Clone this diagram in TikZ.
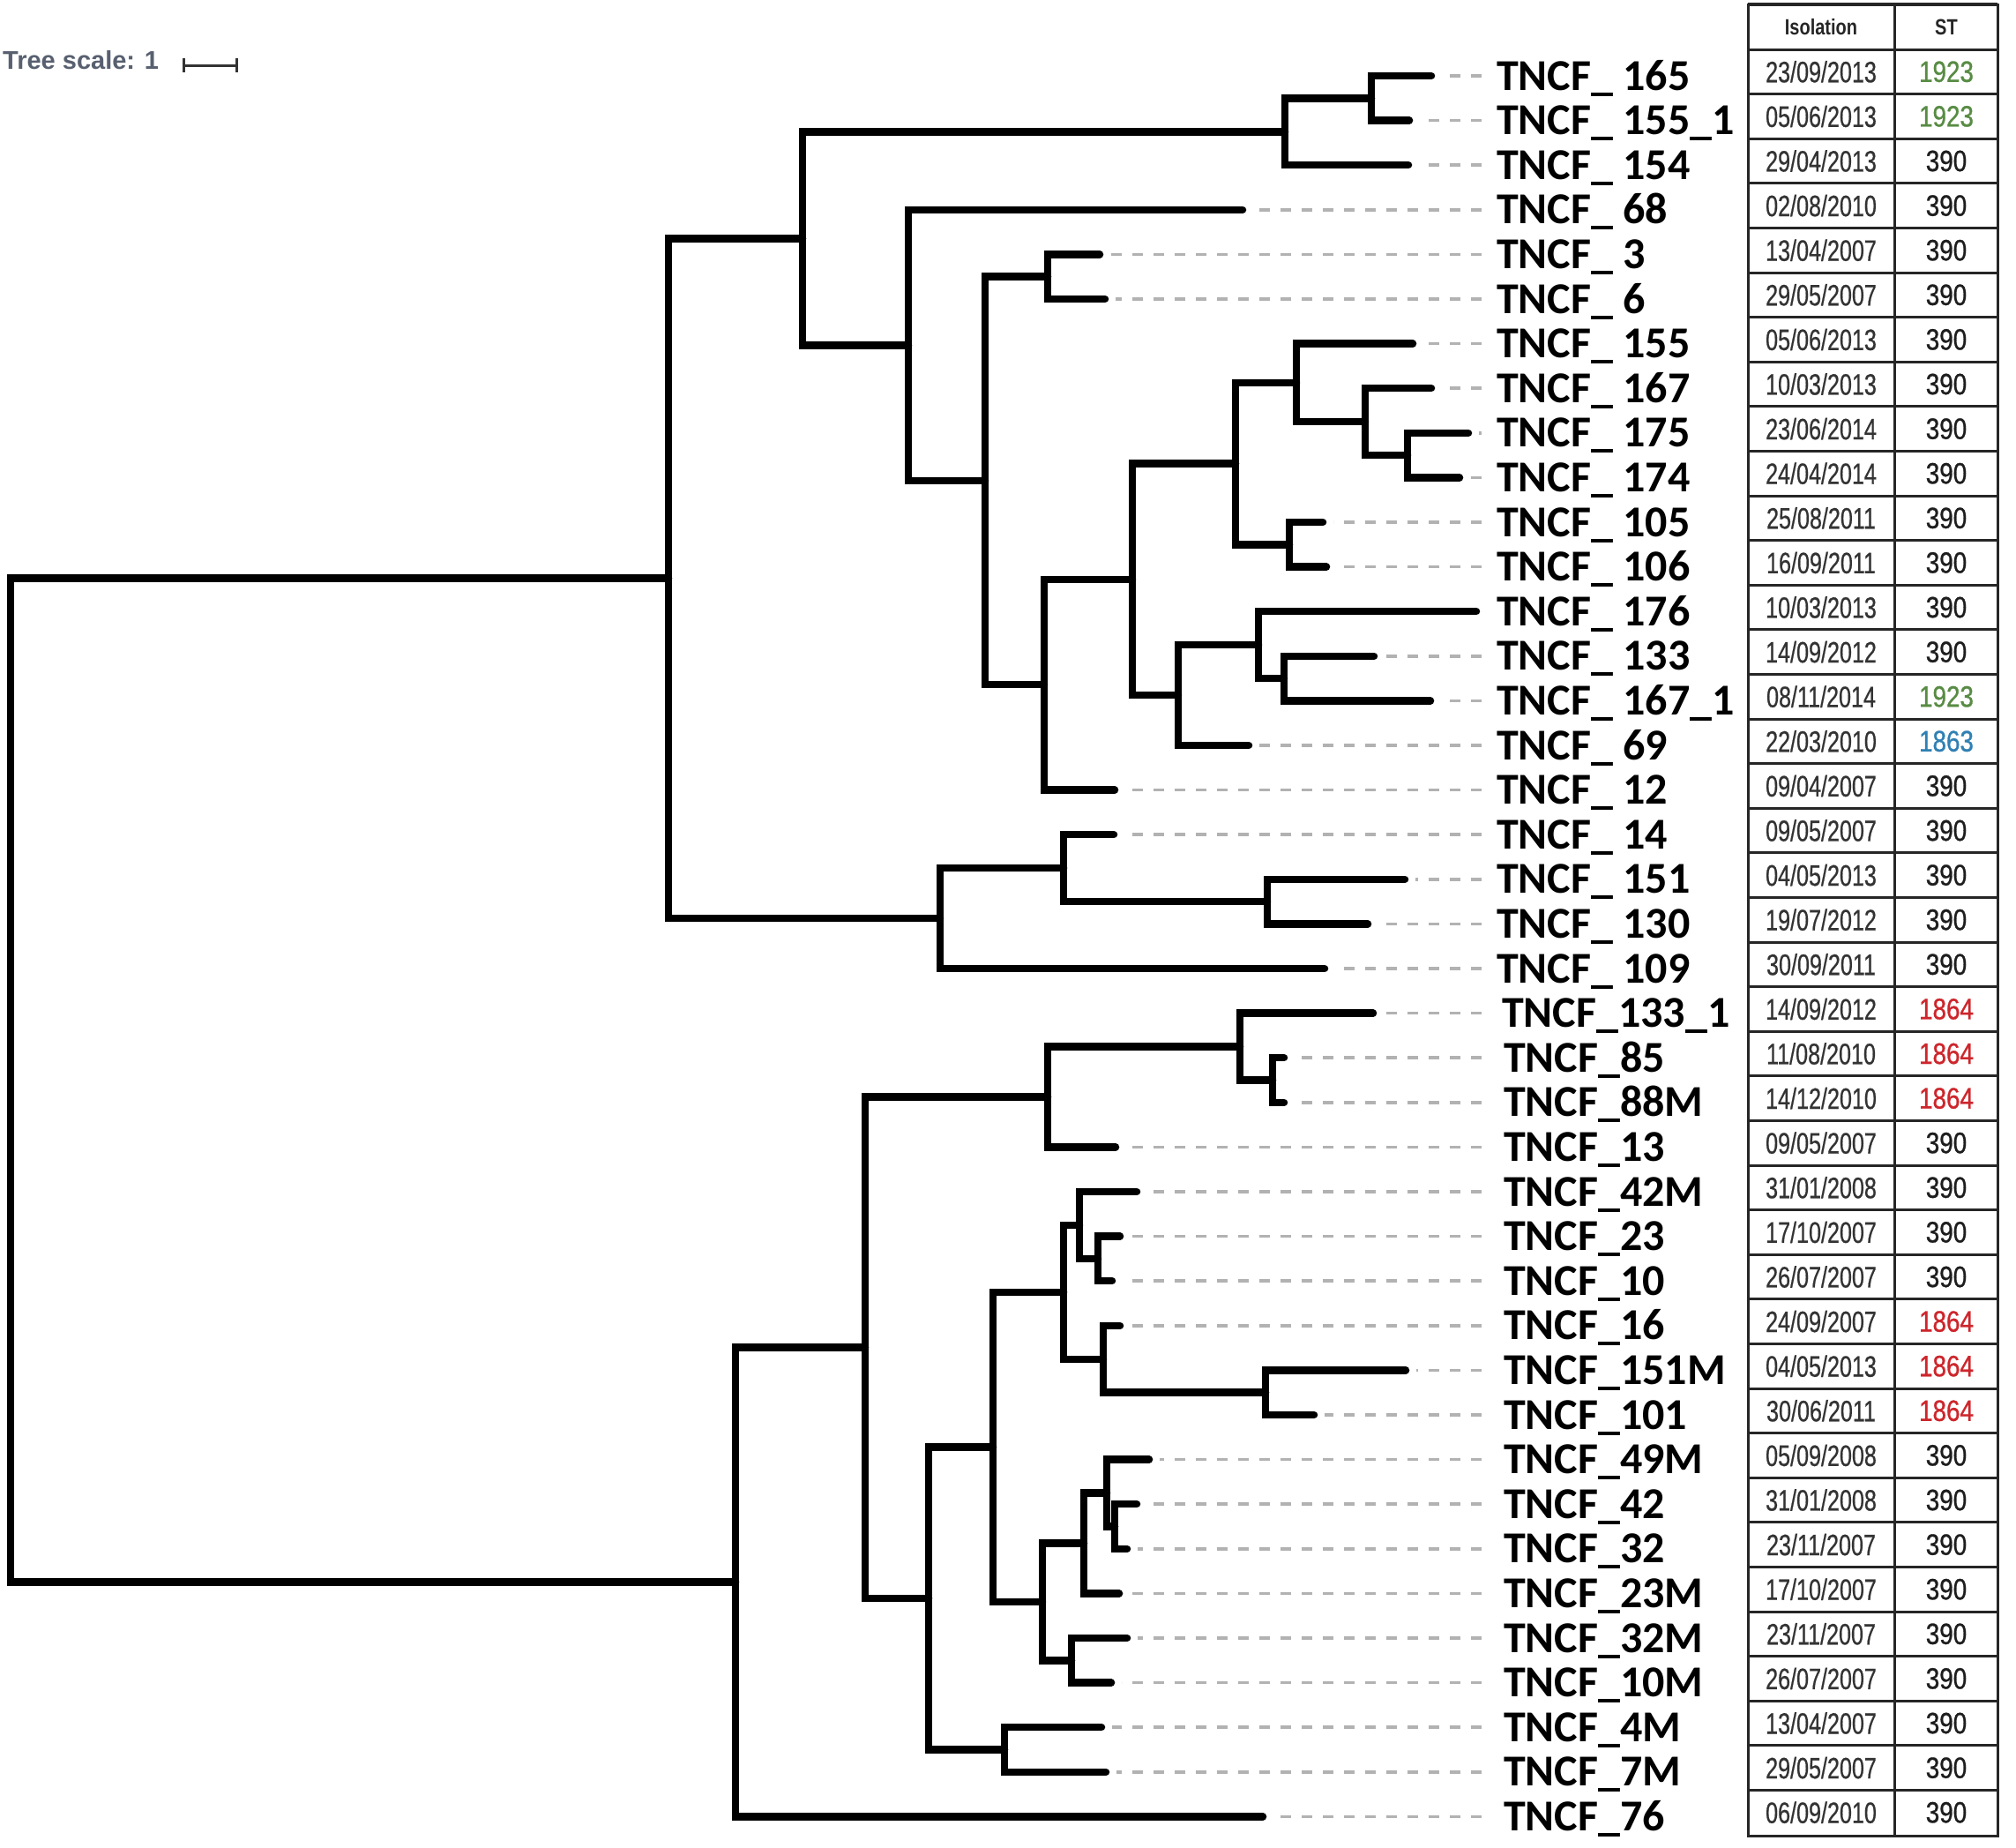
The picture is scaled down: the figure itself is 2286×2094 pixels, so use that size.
\documentclass[tikz,border=0pt]{standalone}
\usepackage{fontspec}
\setmainfont{Liberation Sans}
\newfontfamily\labfont{Carlito}
\newfontfamily\datefont{Liberation Sans}[FakeStretch=0.75,FakeBold=0.6]
\newfontfamily\stfont{Liberation Sans}[FakeStretch=0.83,FakeBold=0.8]
\newfontfamily\hdrfont{Liberation Sans}[FakeStretch=0.8]
\definecolor{stgreen}{RGB}{88,140,68}
\definecolor{stblue}{RGB}{48,128,180}
\definecolor{stred}{RGB}{205,38,44}
\definecolor{stblack}{RGB}{30,30,30}
\definecolor{scalegray}{RGB}{88,96,112}
\newcommand\tabrow[4]{%
  \pgfmathsetmacro\ry{81.3+50.6*#1}%
  \node[datetext] (d#1) at (2065,\ry) {#2};%
  \node[sttext,text=#4] (s#1) at (2207,\ry) {#3};%
}
\begin{document}
\begin{tikzpicture}[x=1pt,y=-1pt,
  branch/.style={line width=8.5pt, line cap=round, line join=miter, draw=black},
  leafdash/.style={line width=3.5pt, draw=black!30, dash pattern=on 12pt off 12pt},
  leaflabel/.style={anchor=base west, inner sep=0pt, font=\labfont\bfseries\fontsize{50}{60}\selectfont},
  tabline/.style={line width=3pt, draw=black!85},
  datetext/.style={inner sep=0pt, font=\datefont\fontsize{33.5}{40}\selectfont, text=black!80},
  sttext/.style={inner sep=0pt, font=\stfont\fontsize{33.5}{40}\selectfont},
  hdrtext/.style={inner sep=0pt, font=\hdrfont\bfseries\fontsize{25}{30}\selectfont, text=black!85},
  scalebar/.style={line width=3pt, draw=black!80}
]
\fill[white] (0,0) rectangle (2286,2094);
\useasboundingbox (0,0) rectangle (2286,2094);

% scale
\node[anchor=base west, inner sep=0pt, font=\bfseries\fontsize{29}{34}\selectfont, text=scalegray] (ts) at (3,78) {Tree scale: 1};
\coordinate (sbL) at (208,74);
\coordinate (sbR) at (268,74);
\draw[scalebar] (sbL) -- (sbR);
\draw[scalebar] ([yshift=8pt]sbL) -- ([yshift=-8pt]sbL);
\draw[scalebar] ([yshift=8pt]sbR) -- ([yshift=-8pt]sbR);

% leaves
\foreach \k/\tx/\lx/\txt in {
0/1627/1697/{TNCF\_ 165},
1/1602/1697/{TNCF\_ 155\_1},
2/1601/1697/{TNCF\_ 154},
3/1413/1697/{TNCF\_ 68},
4/1251/1697/{TNCF\_ 3},
5/1257/1697/{TNCF\_ 6},
6/1606/1697/{TNCF\_ 155},
7/1627/1697/{TNCF\_ 167},
8/1669/1697/{TNCF\_ 175},
9/1659/1697/{TNCF\_ 174},
10/1504/1697/{TNCF\_ 105},
11/1508/1697/{TNCF\_ 106},
12/1678/1697/{TNCF\_ 176},
13/1562/1697/{TNCF\_ 133},
14/1626/1697/{TNCF\_ 167\_1},
15/1420/1697/{TNCF\_ 69},
16/1268/1697/{TNCF\_ 12},
17/1267/1697/{TNCF\_ 14},
18/1597/1697/{TNCF\_ 151},
19/1555/1697/{TNCF\_ 130},
20/1506/1697/{TNCF\_ 109},
21/1561/1703/{TNCF\_133\_1},
22/1460/1705/{TNCF\_85},
23/1460/1705/{TNCF\_88M},
24/1269/1705/{TNCF\_13},
25/1293/1705/{TNCF\_42M},
26/1274/1705/{TNCF\_23},
27/1265/1705/{TNCF\_10},
28/1274/1705/{TNCF\_16},
29/1598/1705/{TNCF\_151M},
30/1494/1705/{TNCF\_101},
31/1307/1705/{TNCF\_49M},
32/1293/1705/{TNCF\_42},
33/1282/1705/{TNCF\_32},
34/1273/1705/{TNCF\_23M},
35/1282/1705/{TNCF\_32M},
36/1264/1705/{TNCF\_10M},
37/1253/1705/{TNCF\_4M},
38/1258/1705/{TNCF\_7M},
39/1436/1705/{TNCF\_76}}{
  \pgfmathsetmacro\yy{86+50.6*\k}
  \coordinate (t\k) at (\tx-4,\yy);
  \coordinate (e\k) at (1680,\yy);
  \node[leaflabel] (l\k) at (\lx,\yy+16) {\txt};
}

% dashed leaf guides
\foreach \k in {0,...,11,13,14,...,39}
  \draw[leafdash] (e\k) -- ([xshift=12pt]t\k);

% internal nodes
\coordinate (root) at (12,1224.63);
\coordinate (A) at (758,655.7);
\coordinate (A1) at (910,270.31);
\coordinate (A1a) at (1457,149.25);
\coordinate (A1a1) at (1555,111.3);
\coordinate (A1b) at (1030,391.38);
\coordinate (A1b1) at (1117,544.96);
\coordinate (n36) at (1188,313.7);
\coordinate (nC) at (1184,776.21);
\coordinate (nD) at (1284,656.83);
\coordinate (nE) at (1401,525.59);
\coordinate (nG) at (1470,433.875);
\coordinate (nI) at (1548,478.15);
\coordinate (nJ) at (1596,516.1);
\coordinate (nH) at (1462,617.3);
\coordinate (nF) at (1336,788.075);
\coordinate (nK) at (1427,731.15);
\coordinate (nL) at (1456,769.1);
\coordinate (A2) at (1066,1041.08);
\coordinate (nM) at (1206,984.15);
\coordinate (nN) at (1437,1022.1);
\coordinate (B) at (834,1793.56);
\coordinate (B1) at (981,1527.71);
\coordinate (B1a) at (1188,1243.48);
\coordinate (nO) at (1406,1186.55);
\coordinate (nP) at (1443,1224.5);
\coordinate (B1b) at (1053,1811.94);
\coordinate (nR) at (1139,1983.5);
\coordinate (nQ) at (1126,1640.37);
\coordinate (nS) at (1206,1464.85);
\coordinate (nU) at (1224,1388.95);
\coordinate (nW) at (1245,1426.9);
\coordinate (nV) at (1251,1540.75);
\coordinate (nX) at (1435,1578.7);
\coordinate (nT) at (1182,1815.89);
\coordinate (nY) at (1229,1749.48);
\coordinate (nAA) at (1255,1692.55);
\coordinate (nAB) at (1264,1730.5);
\coordinate (nZ) at (1215,1882.3);

% branches
\foreach \p/\c in {root/A,root/B,A/A1,A/A2,A1/A1a,A1/A1b,A1a/A1a1,A1a/t2,A1a1/t0,A1a1/t1,
  A1b/t3,A1b/A1b1,A1b1/n36,A1b1/nC,n36/t4,n36/t5,nC/nD,nC/t16,nD/nE,nD/nF,nE/nG,nE/nH,
  nG/t6,nG/nI,nI/t7,nI/nJ,nJ/t8,nJ/t9,nH/t10,nH/t11,nF/nK,nF/t15,nK/t12,nK/nL,nL/t13,nL/t14,
  A2/nM,A2/t20,nM/t17,nM/nN,nN/t18,nN/t19,
  B/B1,B/t39,B1/B1a,B1/B1b,B1a/nO,B1a/t24,nO/t21,nO/nP,nP/t22,nP/t23,
  B1b/nQ,B1b/nR,nR/t37,nR/t38,nQ/nS,nQ/nT,nS/nU,nS/nV,nU/t25,nU/nW,nW/t26,nW/t27,
  nV/t28,nV/nX,nX/t29,nX/t30,nT/nY,nT/nZ,nY/nAA,nY/t34,nAA/t31,nAA/nAB,nAB/t32,nAB/t33,
  nZ/t35,nZ/t36}
  \draw[branch] (\p) |- (\c);

% table
\draw[tabline] (1982,5) rectangle (2265,2081);
\draw[tabline,line width=4pt] (1982,5) -- (2265,5);
\draw[tabline] (2148,5) -- (2148,2081);
\foreach \k in {0,...,39}
  \draw[tabline] (1982,{56+50.6*\k}) -- (2265,{56+50.6*\k});
\node[hdrtext] (hIso) at (2065,31) {Isolation};
\node[hdrtext] (hST) at (2207,31) {ST};
\tabrow{0}{23/09/2013}{1923}{stgreen}
\tabrow{1}{05/06/2013}{1923}{stgreen}
\tabrow{2}{29/04/2013}{390}{stblack}
\tabrow{3}{02/08/2010}{390}{stblack}
\tabrow{4}{13/04/2007}{390}{stblack}
\tabrow{5}{29/05/2007}{390}{stblack}
\tabrow{6}{05/06/2013}{390}{stblack}
\tabrow{7}{10/03/2013}{390}{stblack}
\tabrow{8}{23/06/2014}{390}{stblack}
\tabrow{9}{24/04/2014}{390}{stblack}
\tabrow{10}{25/08/2011}{390}{stblack}
\tabrow{11}{16/09/2011}{390}{stblack}
\tabrow{12}{10/03/2013}{390}{stblack}
\tabrow{13}{14/09/2012}{390}{stblack}
\tabrow{14}{08/11/2014}{1923}{stgreen}
\tabrow{15}{22/03/2010}{1863}{stblue}
\tabrow{16}{09/04/2007}{390}{stblack}
\tabrow{17}{09/05/2007}{390}{stblack}
\tabrow{18}{04/05/2013}{390}{stblack}
\tabrow{19}{19/07/2012}{390}{stblack}
\tabrow{20}{30/09/2011}{390}{stblack}
\tabrow{21}{14/09/2012}{1864}{stred}
\tabrow{22}{11/08/2010}{1864}{stred}
\tabrow{23}{14/12/2010}{1864}{stred}
\tabrow{24}{09/05/2007}{390}{stblack}
\tabrow{25}{31/01/2008}{390}{stblack}
\tabrow{26}{17/10/2007}{390}{stblack}
\tabrow{27}{26/07/2007}{390}{stblack}
\tabrow{28}{24/09/2007}{1864}{stred}
\tabrow{29}{04/05/2013}{1864}{stred}
\tabrow{30}{30/06/2011}{1864}{stred}
\tabrow{31}{05/09/2008}{390}{stblack}
\tabrow{32}{31/01/2008}{390}{stblack}
\tabrow{33}{23/11/2007}{390}{stblack}
\tabrow{34}{17/10/2007}{390}{stblack}
\tabrow{35}{23/11/2007}{390}{stblack}
\tabrow{36}{26/07/2007}{390}{stblack}
\tabrow{37}{13/04/2007}{390}{stblack}
\tabrow{38}{29/05/2007}{390}{stblack}
\tabrow{39}{06/09/2010}{390}{stblack}
\end{tikzpicture}
\end{document}
